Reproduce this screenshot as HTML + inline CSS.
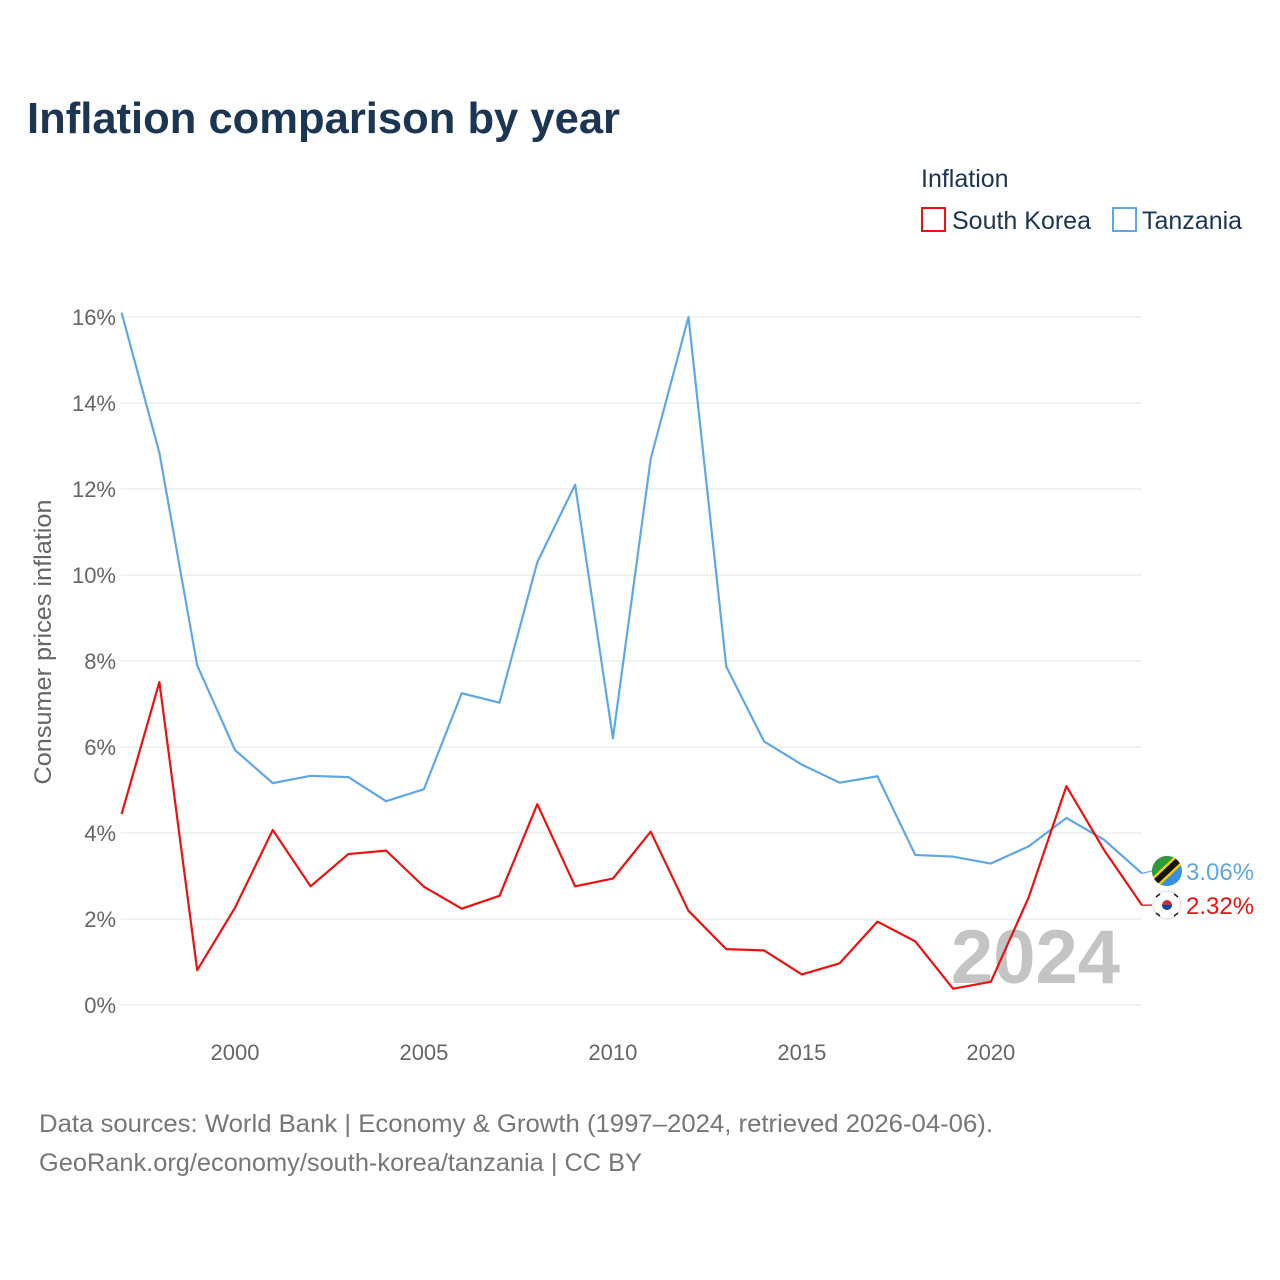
<!DOCTYPE html>
<html><head><meta charset="utf-8"><style>
body{margin:0;background:#fff;font-family:"Liberation Sans",sans-serif;}
#wrap{position:relative;width:1280px;height:1280px;overflow:hidden;}
</style></head><body>
<div id="wrap">
<svg id="chart" width="1280" height="1280" xmlns="http://www.w3.org/2000/svg">
<text x="27" y="133" font-size="44" font-weight="bold" fill="#1b3553" textLength="593" lengthAdjust="spacingAndGlyphs">Inflation comparison by year</text>
<text x="921" y="187" font-size="25" fill="#1b3553">Inflation</text>
<g><rect x="922" y="208" width="23" height="23" fill="none" stroke="#ee1111" stroke-width="2"/><text x="952" y="229" font-size="25" fill="#1b3553">South Korea</text></g>
<g><rect x="1113" y="208" width="23" height="23" fill="none" stroke="#5ea8ea" stroke-width="2"/><text x="1142" y="229" font-size="25" fill="#1b3553">Tanzania</text></g>
<text transform="translate(51,642) rotate(-90)" text-anchor="middle" font-size="24" fill="#666" textLength="285" lengthAdjust="spacingAndGlyphs">Consumer prices inflation</text>
<g id="grid"></g><g id="yticks"></g><g id="xticks"></g>
<text x="1120" y="983" text-anchor="end" font-size="76" font-weight="bold" fill="#c4c4c4">2024</text>
<g id="series"></g>
<text x="39" y="1132" font-size="25" fill="#777" textLength="954" lengthAdjust="spacingAndGlyphs">Data sources: World Bank | Economy &amp; Growth (1997–2024, retrieved 2026-04-06).</text>
<text x="39" y="1171" font-size="25" fill="#777" textLength="603" lengthAdjust="spacingAndGlyphs">GeoRank.org/economy/south-korea/tanzania | CC BY</text>
</svg>
</div>
<script>
const years=[1997,1998,1999,2000,2001,2002,2003,2004,2005,2006,2007,2008,2009,2010,2011,2012,2013,2014,2015,2016,2017,2018,2019,2020,2021,2022,2023,2024];
const tanzania=[16.1,12.84,7.9,5.93,5.16,5.33,5.3,4.74,5.02,7.25,7.03,10.3,12.1,6.2,12.7,16.0,7.87,6.13,5.59,5.17,5.32,3.49,3.45,3.29,3.69,4.35,3.84,3.06];
const southKorea=[4.44,7.51,0.81,2.26,4.07,2.76,3.51,3.59,2.75,2.24,2.54,4.67,2.76,2.94,4.03,2.19,1.30,1.27,0.71,0.97,1.94,1.48,0.38,0.54,2.5,5.09,3.6,2.32];
const yTicks=[0,2,4,6,8,10,12,14,16];
const xTicks=[2000,2005,2010,2015,2020];
const NS="http://www.w3.org/2000/svg";
const X=y=>121.6+(y-1997)*(1142-121.6)/27;
const Y=v=>1005-v*43;
function mk(t,a,p){const e=document.createElementNS(NS,t);for(const k in a)e.setAttribute(k,a[k]);document.getElementById(p).appendChild(e);return e;}
yTicks.forEach(v=>{
 const l=mk('line',{x1:121,x2:1142,y1:Y(v),y2:Y(v),stroke:'#e6e6e6','stroke-width':1},'grid');
 
 
 const t=mk('text',{x:116,y:Y(v)+8,'text-anchor':'end','font-size':22,fill:'#666'},'yticks');
 t.textContent=v+'%';
 
 
});
xTicks.forEach(v=>{
 const t=mk('text',{x:X(v),y:1060,'text-anchor':'middle','font-size':22,fill:'#666'},'xticks');
 t.textContent=v;
 
 
});
function line(vals,col,name){
 const p=mk('polyline',{points:vals.map((v,i)=>X(years[i])+','+Y(v)).join(' '),fill:'none',stroke:col,'stroke-width':2.2,'stroke-linejoin':'round'},'series');
 
 
}
line(tanzania,'#5ea8ea','tanzania-line');
line(southKorea,'#ee1111','south-korea-line');
function endLabel(vals,col,name,flag,ly){
 const v=vals[vals.length-1],x=X(years[years.length-1]),y=Y(v);
 mk('line',{x1:x,y1:y,x2:x+10,y2:ly,stroke:col,'stroke-width':1.2},'series');
 const g=mk('g',{},'series');
 
 
 if(flag==='tz'){
  g.innerHTML='<clipPath id="tzc"><circle cx="1167" cy="'+ly+'" r="15"/></clipPath><g clip-path="url(#tzc)"><rect x="1150" y="'+(ly-16)+'" width="34" height="32" fill="#3a8fe0"/><polygon points="1150,'+(ly-16)+' 1184,'+(ly-16)+' 1150,'+(ly+16)+'" fill="#2e9a3a"/><line x1="1150" y1="'+(ly+16)+'" x2="1184" y2="'+(ly-16)+'" stroke="#f6d000" stroke-width="11"/><line x1="1150" y1="'+(ly+16)+'" x2="1184" y2="'+(ly-16)+'" stroke="#111" stroke-width="6"/></g>';
 }else{
  g.innerHTML='<circle cx="1167" cy="'+ly+'" r="14" fill="#fff" stroke="#ddd"/><circle cx="1167" cy="'+ly+'" r="5" fill="#cd2e3a"/><path d="M1162 '+ly+' a5 5 0 0 0 10 0z" fill="#0047a0"/><g stroke="#222" stroke-width="1.5"><line x1="1156" y1="'+(ly-8)+'" x2="1160" y2="'+(ly-11)+'"/><line x1="1174" y1="'+(ly-11)+'" x2="1178" y2="'+(ly-8)+'"/><line x1="1156" y1="'+(ly+8)+'" x2="1160" y2="'+(ly+11)+'"/><line x1="1174" y1="'+(ly+11)+'" x2="1178" y2="'+(ly+8)+'"/></g>';
 }
 const t=mk('text',{x:1186,y:ly+9,'font-size':24,fill:col},'series');
 t.textContent=v.toFixed(2)+'%';
 
 
}
endLabel(tanzania,'#5ea8ea','tanzania',"tz",871);
endLabel(southKorea,'#ee1111','south-korea',"kr",905);
</script>
</body></html>
